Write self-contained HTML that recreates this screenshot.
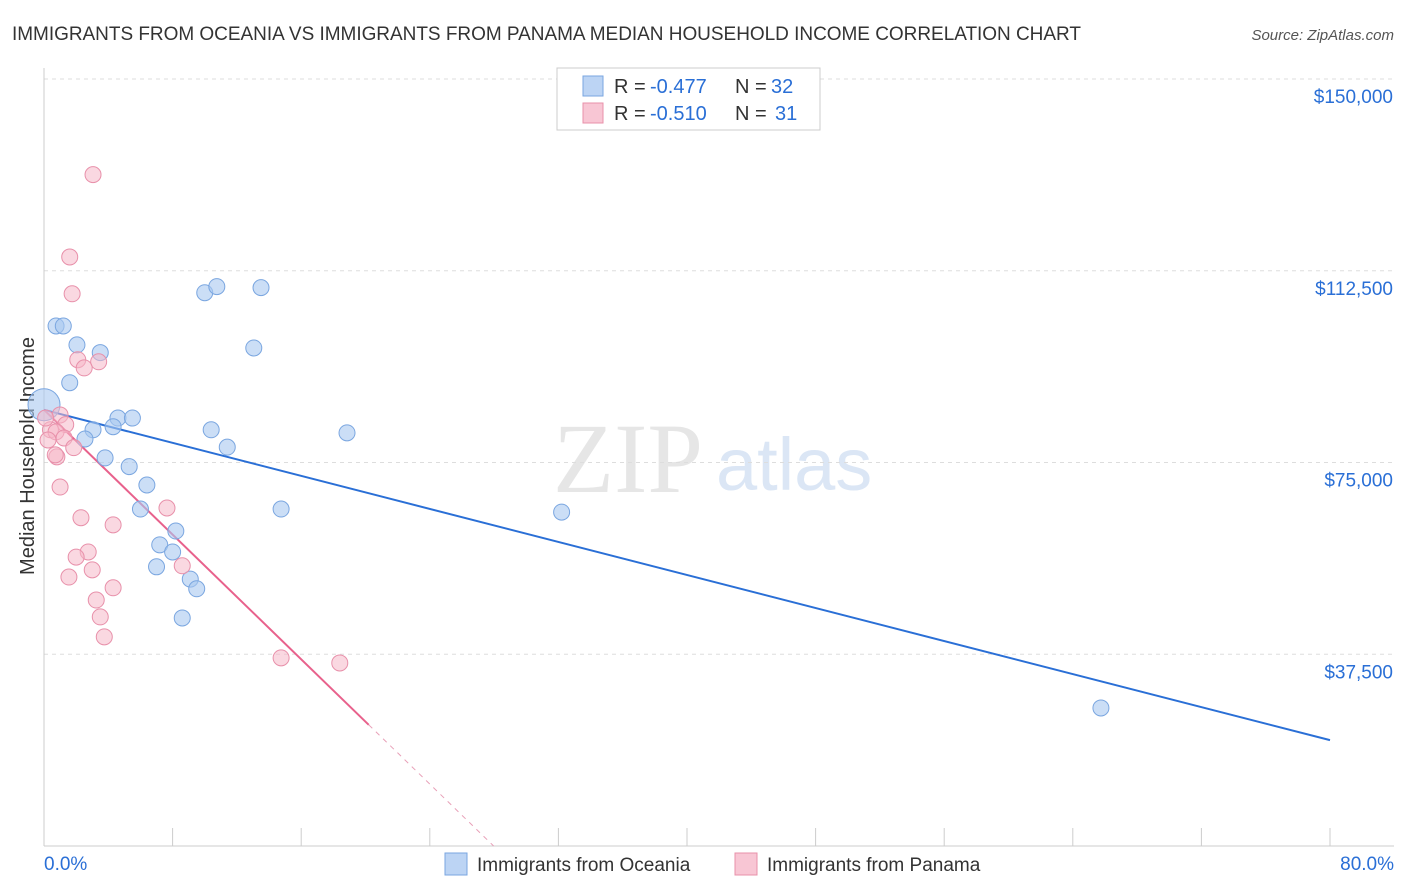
<!DOCTYPE html>
<html><head><meta charset="utf-8"><style>
body{margin:0;background:#fff;font-family:"Liberation Sans",sans-serif}
</style></head><body>
<svg id="chart" width="1406" height="892" style="display:block">
<text x="12" y="40" font-size="19" fill="#333" textLength="1069">IMMIGRANTS FROM OCEANIA VS IMMIGRANTS FROM PANAMA MEDIAN HOUSEHOLD INCOME CORRELATION CHART</text>
<text x="1394" y="40" font-size="15" fill="#555" text-anchor="end" font-style="italic">Source: ZipAtlas.com</text>
<text x="34" y="456" font-size="20" fill="#333" text-anchor="middle" transform="rotate(-90 34 456)">Median Household Income</text>
<text x="553" y="492" font-size="100" fill="#e6e6e6" font-family="Liberation Serif,serif">ZIP</text>
<text x="716" y="490" font-size="74" fill="#dbe6f5">atlas</text>
<g id="grid"></g><g id="axes"></g><g id="lines"></g><g id="pts"></g>
<g font-size="20">
<rect x="557" y="68" width="263" height="62" fill="#fff" stroke="#ccc"/>
<rect x="583" y="76" width="20" height="20" fill="#bcd4f4" stroke="#7aa6e0"/>
<text x="614" y="93" fill="#333">R =</text><text x="650" y="93" fill="#2a6fd6">-0.477</text>
<text x="735" y="93" fill="#333">N =</text><text x="771" y="93" fill="#2a6fd6">32</text>
<rect x="583" y="103" width="20" height="20" fill="#f8c6d4" stroke="#e890aa"/>
<text x="614" y="120" fill="#333">R =</text><text x="650" y="120" fill="#2a6fd6">-0.510</text>
<text x="735" y="120" fill="#333">N =</text><text x="775" y="120" fill="#2a6fd6">31</text>
</g>
<g>
<rect x="445" y="853" width="22" height="22" fill="#bcd4f4" stroke="#7aa6e0"/>
<text x="477" y="871" font-size="19" fill="#333">Immigrants from Oceania</text>
<rect x="735" y="853" width="22" height="22" fill="#f8c6d4" stroke="#e890aa"/>
<text x="767" y="871" font-size="19" fill="#333">Immigrants from Panama</text>
</g>
</svg>
<script>
const yTicks=[37500,75000,112500,150000];
const yTickLabels=["$37,500","$75,000","$112,500","$150,000"];
const xTickLabels=["0.0%","80.0%"];
const oceaniaX=[0,0.75,1.2,2.05,3.5,1.6,4.6,5.5,4.3,3.05,2.55,3.8,5.3,6.4,6.0,8.2,7.2,8.0,7.0,9.1,9.5,8.6,10.0,10.75,13.5,13.05,10.4,11.4,18.85,14.75,32.2,65.75];
const oceaniaY=[86300,101700,101700,98000,96500,90600,83700,83700,82000,81400,79600,75900,74200,70600,65900,61600,58900,57500,54600,52200,50300,44600,108200,109400,109200,97400,81400,78000,80800,65900,65300,27000];
const panamaX=[3.05,1.6,1.75,2.1,3.4,2.5,1.0,1.35,0.4,0.75,1.25,1.85,0.8,1.0,7.65,2.3,4.3,2.75,2.0,3.0,8.6,1.55,4.3,3.25,3.5,3.75,14.75,18.4,0.25,0.1,0.7];
const panamaY=[131300,115200,108000,95100,94700,93500,84300,82400,81400,81000,79800,77900,76100,70200,66100,64200,62800,57500,56500,54000,54800,52600,50500,48100,44800,40900,36800,35800,79400,83700,76500];
const oceaniaFit=[85300,20700];
const panamaFit=[85300,23700,20.2];
const X=v=>44+v/80*1286, Y=v=>846-v/150000*767;
const NS="http://www.w3.org/2000/svg";
function mk(t,a,p){const e=document.createElementNS(NS,t);for(const k in a)e.setAttribute(k,a[k]);document.getElementById(p).appendChild(e);return e;}
yTicks.forEach((v,i)=>{
 const g=mk('line',{x1:44,x2:1394,y1:Y(v),y2:Y(v),stroke:'#ddd','stroke-dasharray':'4,4'},'grid');
 
 
 const t=mk('text',{x:1393,y:Y(v)+24,'font-size':19,fill:'#2a6fd6','text-anchor':'end'},'axes');
 t.textContent=yTickLabels[i];
 
 
});
const ax=mk('line',{x1:44,x2:44,y1:68,y2:846,stroke:'#ccc'},'axes');


const bx=mk('line',{x1:44,x2:1394,y1:846,y2:846,stroke:'#ccc'},'axes');


for(let i=0;i<=10;i++){const xx=44+i*128.6;const tk=mk('line',{x1:xx,x2:xx,y1:828,y2:846,stroke:'#ccc'},'axes');
 
 }
[[0,'start',44],[80,'end',1394]].forEach((d,i)=>{const t=mk('text',{x:d[2],y:870,'font-size':19,fill:'#2a6fd6','text-anchor':d[1]},'axes');t.textContent=xTickLabels[i];
 
 });
const bl=mk('line',{x1:X(0),y1:Y(oceaniaFit[0]),x2:X(80),y2:Y(oceaniaFit[1]),stroke:'#2a6fd6','stroke-width':2},'lines');


const pl=mk('line',{x1:X(0),y1:Y(panamaFit[0]),x2:X(panamaFit[2]),y2:Y(panamaFit[1]),stroke:'#e8618c','stroke-width':2},'lines');


const slope=(panamaFit[1]-panamaFit[0])/panamaFit[2];const xz=-panamaFit[0]/slope;
const pd=mk('line',{x1:X(panamaFit[2]),y1:Y(panamaFit[1]),x2:X(xz),y2:Y(0),stroke:'#e8a0b8','stroke-width':1,'stroke-dasharray':'5,5'},'lines');


oceaniaX.forEach((x,i)=>{const c=mk('circle',{cx:X(x),cy:Y(oceaniaY[i]),r:i==0?16:8,fill:'rgba(169,200,240,0.6)',stroke:'#7aa6e0','stroke-width':1},'pts');
 
 });
panamaX.forEach((x,i)=>{const c=mk('circle',{cx:X(x),cy:Y(panamaY[i]),r:8,fill:'rgba(245,184,201,0.55)',stroke:'#e890aa','stroke-width':1},'pts');
 
 });
</script>
</body></html>
